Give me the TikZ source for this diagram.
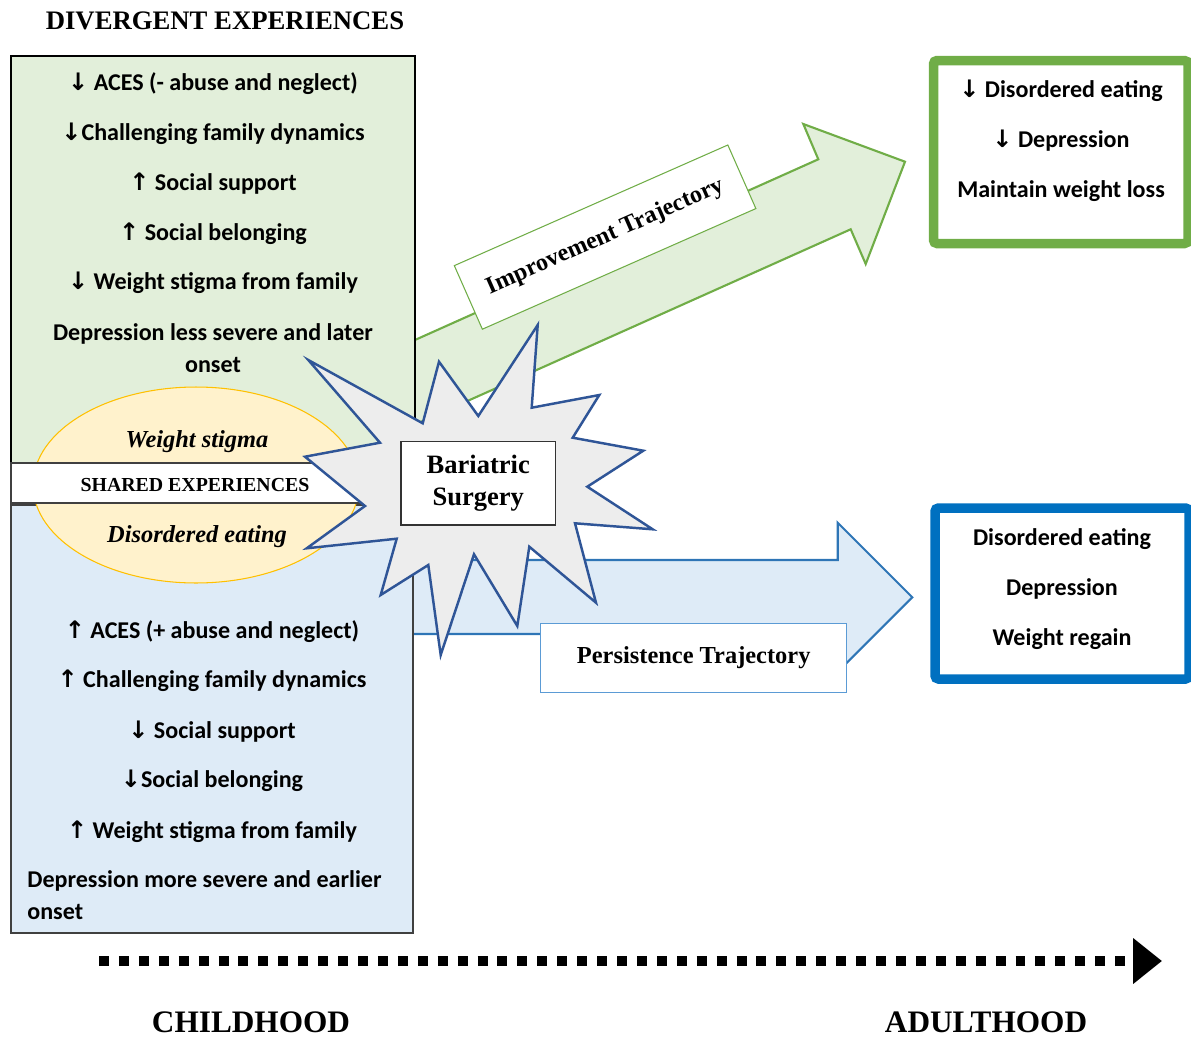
\documentclass[tikz,border=0pt]{standalone}
\usepackage{fontspec}
\setmainfont{Liberation Serif}
\newfontfamily\calibri{Carlito}
\newfontfamily\arrowfont{DejaVu Sans}
\usetikzlibrary{arrows.meta}
\newcommand{\upar}{{\arrowfont\char"2191}}
\newcommand{\dnar}{{\arrowfont\char"2193}}
\definecolor{boxgreen}{HTML}{E2EFDA}
\definecolor{boxblue}{HTML}{DEEBF7}
\definecolor{ellfill}{HTML}{FFF2CC}
\definecolor{ellline}{HTML}{FFC000}
\definecolor{okgreen}{HTML}{70AD47}
\definecolor{okblue}{HTML}{0070C0}
\definecolor{arrblue}{HTML}{2E75B6}
\definecolor{lblblue}{HTML}{5B9BD5}
\definecolor{burstline}{HTML}{2F5597}
\definecolor{burstfill}{HTML}{EDEDED}
\tikzset{
  item/.style={font=\calibri\bfseries\fontsize{13.7}{16}\selectfont, anchor=base, inner sep=0pt},
  heading/.style={font=\bfseries\fontsize{17.8}{20}\selectfont, anchor=base, inner sep=0pt},
  shared/.style={font=\bfseries\itshape\fontsize{13.9}{16}\selectfont, anchor=base, inner sep=0pt},
  trajlabel/.style={fill=white, line width=0.6pt, font=\bfseries\fontsize{13.8}{16}\selectfont}
}
\begin{document}
\begin{tikzpicture}[x=0.02cm, y=-0.02cm]
\useasboundingbox (0,0) rectangle (1191,1038);
% trajectory arrows
\filldraw[fill=boxgreen, draw=okgreen, line width=1.2pt] (400,346.7) -- (818.3,159.3) -- (803.3,124) -- (905,161.7) -- (865.7,264) -- (850.7,229.3) -- (400,431.2) -- cycle;
\filldraw[fill=boxblue, draw=arrblue, line width=1.2pt] (400,560) -- (837.7,560) -- (837.7,522.7) -- (912.3,597.3) -- (837.7,672) -- (837.7,634) -- (400,634) -- cycle;
% childhood boxes
\filldraw[fill=boxgreen, draw=black, line width=0.9pt] (11,463) rectangle (415,56);
\filldraw[fill=boxblue, draw=black!75, line width=0.9pt] (11,505) rectangle (413,933);
\filldraw[fill=ellfill, draw=ellline, line width=0.6pt] (196,485) ellipse [x radius=3.26cm, y radius=1.96cm];
\filldraw[fill=white, draw=black!75, line width=0.9pt] (11,463) rectangle (370,503);
% starburst
\filldraw[fill=burstfill, draw=burstline, line width=1.4pt, line join=miter] (308.3,360) -- (422.7,423.3) -- (439,361.7) -- (478.3,416) -- (537.7,325) -- (531.7,407.7) -- (599.3,395) -- (572.7,437.7) -- (643.3,450.7) -- (587.3,486.7) -- (652.7,529.3) -- (575,523.3) -- (596,602.7) -- (529.3,546.7) -- (517.3,626) -- (474,554.3) -- (440.7,655) -- (428.3,565) -- (380.7,595) -- (396.7,538.7) -- (306.7,548.3) -- (365,506) -- (305,456.7) -- (380,442.7) -- cycle;
\node[draw=black!80, fill=white, line width=0.8pt, minimum width=3.1cm, minimum height=1.67cm, align=center, font=\bfseries\fontsize{15.1}{18}\selectfont] (surgery) at (478.3,483.3) {Bariatric\\Surgery};
% labels on arrows
\node[trajlabel, draw=okgreen, rotate=23.8, minimum width=5.98cm, minimum height=1.39cm] (improve) at (605.1,237.1) {Improvement Trajectory};
\node[trajlabel, draw=lblblue, minimum width=6.12cm, minimum height=1.374cm, font=\bfseries\fontsize{13.9}{16}\selectfont] (persist) at (693.7,657.7) {Persistence Trajectory};
% adulthood boxes
\draw[draw=okgreen, line width=0.19cm, rounded corners=2pt] (933.5,60.5) rectangle (1188,243.5);
\draw[draw=okblue, line width=0.19cm, rounded corners=2pt] (935,508) rectangle (1189,679);
% headings
\node[heading, font=\bfseries\fontsize{15.2}{18}\selectfont] (divergent) at (225,29) {DIVERGENT EXPERIENCES};
\node[heading] (childhood) at (251,1032) {CHILDHOOD};
\node[heading] (adulthood) at (986,1032) {ADULTHOOD};
\node[shared] (wstigma) at (197,447) {Weight stigma};
\node[shared] (deating) at (197,542) {Disordered eating};
\node[heading, font=\bfseries\fontsize{11.3}{13}\selectfont] (sharedexp) at (195,491) {SHARED EXPERIENCES};
% green box text
\node[item] (g1) at (213,90) {\dnar{} ACES (- abuse and neglect)};
\node[item] (g2) at (213,140) {\dnar Challenging family dynamics};
\node[item] (g3) at (213,190) {\upar{} Social support};
\node[item] (g4) at (213,240) {\upar{} Social belonging};
\node[item] (g5) at (213,289) {\dnar{} Weight stigma from family};
\node[item] (g6) at (213,340) {Depression less severe and later};
\node[item] (g7) at (213,372) {onset};
% blue box text
\node[item] (b1) at (212,638) {\upar{} ACES (+ abuse and neglect)};
\node[item] (b2) at (212,687) {\upar{} Challenging family dynamics};
\node[item] (b3) at (212,738) {\dnar{} Social support};
\node[item] (b4) at (212,787) {\dnar Social belonging};
\node[item] (b5) at (212,838) {\upar{} Weight stigma from family};
\node[item, anchor=base west] (b6) at (27,887) {Depression more severe and earlier};
\node[item, anchor=base west] (b7) at (27,919) {onset};
% outcome text
\node[item] (o1) at (1061,97) {\dnar{} Disordered eating};
\node[item] (o2) at (1061,147) {\dnar{} Depression};
\node[item] (o3) at (1061,197) {Maintain weight loss};
\node[item] (p1) at (1062,545) {Disordered eating};
\node[item] (p2) at (1062,595) {Depression};
\node[item] (p3) at (1062,645) {Weight regain};
% time line
\coordinate (tstart) at (99,961);
\coordinate (tend) at (1162,961);
\draw[line width=0.2cm, dash pattern=on 5.67pt off 5.67pt, -{Triangle[length=16.4pt, width=25pt]}] (tstart) -- (tend);
\end{tikzpicture}
\end{document}
